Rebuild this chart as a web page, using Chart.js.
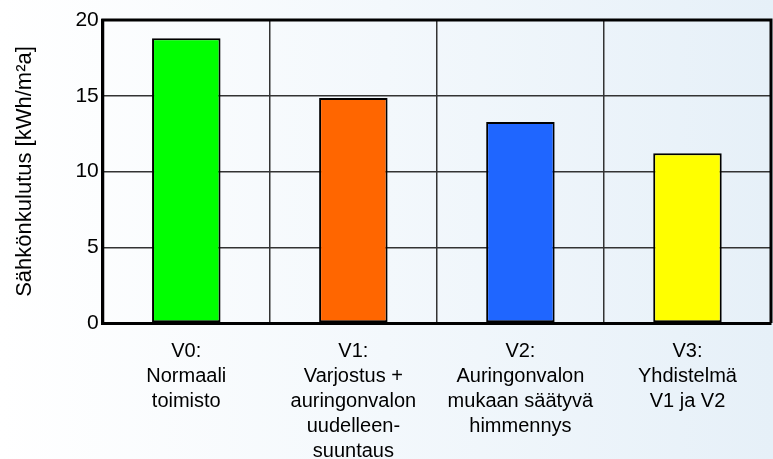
<!DOCTYPE html>
<html>
<head>
<meta charset="utf-8">
<script src="https://cdn.jsdelivr.net/npm/chart.js@4/dist/chart.umd.min.js"></script>
<style>
  html, body { margin: 0; padding: 0; }
  #wrap {
    width: 773px; height: 459px;
    background: linear-gradient(to right, #ffffff 0%, #f3f8fc 50%, #e6f0f8 100%);
  }
</style>
</head>
<body>
<div id="wrap"><canvas id="chart" width="773" height="459"></canvas></div>
<script>
// kategoriat (monirivinen)
const categories = [
    ['V0:', 'Normaali', 'toimisto'],
    ['V1:', 'Varjostus +', 'auringonvalon', 'uudelleen-', 'suuntaus'],
    ['V2:', 'Auringonvalon', 'mukaan säätyvä', 'himmennys'],
    ['V3:', 'Yhdistelmä', 'V1 ja V2']
];
const consumption = [18.8, 14.85, 13.27, 11.2];
const barColors = ['#00ff00', '#ff6600', '#1f66ff', '#ffff00'];
const yTicks = [0, 5, 10, 15, 20];

const font = "'Liberation Sans', Arial, sans-serif";

// kehys piirtoalueen ympärille
const frame = {
    id: 'frame',
    afterDatasetsDraw(chart) {
        const { ctx, chartArea: a } = chart;
        ctx.save();
        ctx.strokeStyle = '#000';
        ctx.lineWidth = 3;
        ctx.beginPath();
        ctx.moveTo(a.left, a.bottom);
        ctx.lineTo(a.left, a.top);
        ctx.lineTo(a.right, a.top);
        ctx.lineTo(a.right, a.bottom);
        ctx.stroke();
        ctx.restore();
    }
};

new Chart(document.getElementById('chart'), {
    type: 'bar',
    data: {
        labels: categories,
        datasets: [{
            data: consumption,
            backgroundColor: barColors,
            borderColor: '#000',
            borderWidth: 2,
            borderSkipped: false,
            categoryPercentage: 0.82,
            barPercentage: 0.5
        }]
    },
    options: {
        responsive: false,
        animation: false,
        layout: { padding: { top: 20, right: 2, left: 12, bottom: -21 } },
        plugins: {
            legend: { display: false },
            tooltip: { enabled: false }
        },
        scales: {
            x: {
                grid: { offset: true, color: '#333', lineWidth: 1.5, drawTicks: false },
                border: { color: '#000', width: 3 },
                ticks: {
                    color: '#000',
                    font: { family: font, size: 20, lineHeight: 1.25 },
                    padding: 16,
                    maxRotation: 0,
                    autoSkip: false
                }
            },
            y: {
                min: 0,
                max: 20,
                afterBuildTicks(axis) { axis.ticks = yTicks.map(v => ({ value: v })); },
                grid: { color: '#333', lineWidth: 1.5, drawTicks: false },
                border: { color: '#000', width: 3 },
                ticks: {
                    color: '#000',
                    font: { family: font, size: 21 },
                    padding: 4
                },
                title: {
                    display: true,
                    text: 'Sähkönkulutus [kWh/m²a]',
                    color: '#000',
                    font: { family: font, size: 22 },
                    padding: { top: 0, bottom: 33 }
                }
            }
        }
    },
    plugins: [frame]
});
</script>
</body>
</html>
